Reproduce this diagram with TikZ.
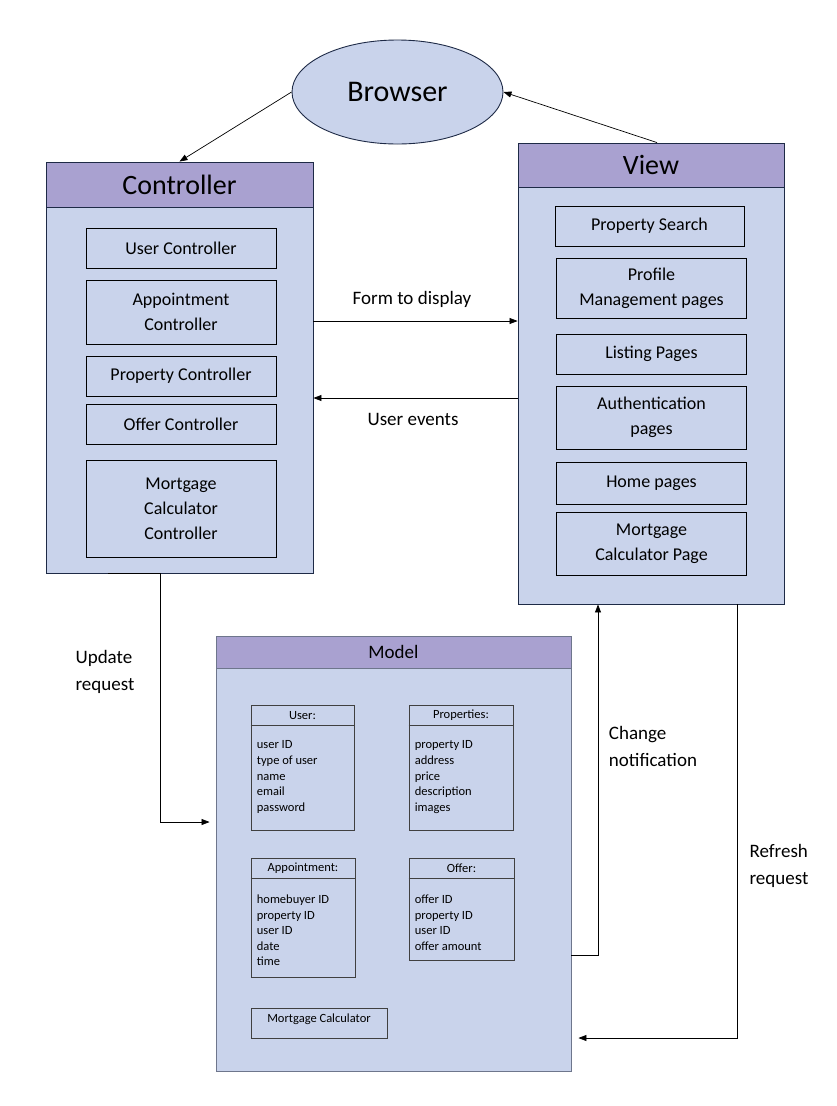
\documentclass[tikz,border=0pt]{standalone}
\usepackage{fontspec}
\setmainfont{Carlito}
\usetikzlibrary{arrows.meta}
\usetikzlibrary{shapes.geometric}
\usetikzlibrary{calc}
\usetikzlibrary{positioning}

\definecolor{panelblue}{RGB}{201,211,235}
\definecolor{headpurple}{RGB}{169,161,208}
\definecolor{edgenavy}{RGB}{30,42,70}
\definecolor{modelgray}{RGB}{110,118,140}

\begin{document}
\begin{tikzpicture}[x=1pt,y=-1pt,
    flow/.style={draw=black, line width=0.7pt, -{Triangle[length=8pt,width=6pt]}},
    lbl/.style={align=left, font=\fontsize{19}{27}\selectfont}]
	\useasboundingbox[fill=white] (0,0) rectangle (836,1106);

	% containers
	\begin{scope}[every node/.style={draw=edgenavy, fill=panelblue, line width=0.9pt, inner sep=0pt}]
		\node[ellipse, minimum width=211pt, minimum height=104pt, font=\fontsize{30}{36}\selectfont] (browser) at (397.5,92) {Browser};
		\node[minimum width=267pt, minimum height=411pt] (ctrl) at (179.5,367.5) {};
		\node[minimum width=266pt, minimum height=461pt] (view) at (651,373.5) {};
		\node[draw=modelgray, minimum width=355pt, minimum height=435pt] (model) at (393.5,853.5) {};
	\end{scope}

	% headers
	\begin{scope}[every node/.style={draw=edgenavy, fill=headpurple, line width=0.9pt, anchor=north, inner sep=0pt}]
		\node[minimum width=267pt, minimum height=45pt, font=\fontsize{28}{34}\selectfont] (ctrlhead) at (ctrl.north) {Controller};
		\node[minimum width=266pt, minimum height=44pt, font=\fontsize{28}{34}\selectfont] (viewhead) at (view.north) {View};
		\node[draw=modelgray, minimum width=355pt, minimum height=32pt, font=\fontsize{19}{23}\selectfont] (modelhead) at (model.north) {Model};
	\end{scope}

	% controller and view parts
	\begin{scope}[every node/.style={draw=black, line width=0.7pt, minimum width=190pt, minimum height=40pt,
	              inner sep=0pt, align=center, font=\fontsize{18}{25}\selectfont}]
		\node (userctrl) at (181,248) {User Controller};
		\node[minimum height=64pt] (apptctrl) at (181,312) {Appointment\\Controller};
		\node (propctrl) at (181,376) {Property Controller};
		\node (offerctrl) at (181,424) {Offer Controller};
		\node[minimum height=97pt] (mortctrl) at (181,508.5) {Mortgage\\Calculator\\Controller};

		\node[minimum width=189pt] (search) at (649.5,226) {Property Search};
		\node[minimum height=60pt] (profile) at (651.5,288) {Profile\\Management pages};
		\node (listing) at (651.5,354) {Listing Pages};
		\node[minimum height=63pt] (auth) at (651.5,417.5) {Authentication\\pages};
		\node[minimum height=42pt] (home) at (651.5,483) {Home pages};
		\node[minimum height=63pt] (mortpage) at (651.5,543.5) {Mortgage\\Calculator Page};
	\end{scope}

	% model entities
	\begin{scope}[every node/.style={draw=black!75, line width=0.7pt, inner sep=0pt}]
		\node[minimum width=103pt, minimum height=125pt] (user) at (302.5,767.5) {};
		\node[minimum width=104pt, minimum height=125pt] (props) at (461,767.5) {};
		\node[minimum width=104pt, minimum height=119pt] (appt) at (303,917.5) {};
		\node[minimum width=105pt, minimum height=102pt] (offer) at (461.5,909) {};
		\node[minimum width=136pt, minimum height=30pt] (mortcalc) at (319,1023) {};
	\end{scope}

	\foreach \ent in {user, props, appt, offer}
		\draw[black!75, line width=0.7pt] ($(\ent.north west)+(0,21)$) -- ($(\ent.north east)+(0,21)$);

	\begin{scope}[every node/.style={inner sep=0pt, font=\fontsize{12.5}{15.6}\selectfont}]
		\node (usertitle) at ($(user.north)+(0,10.5)$) {User:};
		\node (propstitle) at ($(props.north)+(0,10.5)$) {Properties:};
		\node (appttitle) at ($(appt.north)+(0,10.5)$) {Appointment:};
		\node (offertitle) at ($(offer.north)+(0,10.5)$) {Offer:};
		\node (mortcalctitle) at ($(mortcalc.north)+(0,12)$) {Mortgage Calculator};

		\node[anchor=north west, align=left] (userbody) at ($(user.north west)+(6,36)$)
			{user ID\\type of user\\name\\email\\password};
		\node[anchor=north west, align=left] (propsbody) at ($(props.north west)+(6,36)$)
			{property ID\\address\\price\\description\\images};
		\node[anchor=north west, align=left] (apptbody) at ($(appt.north west)+(6,37)$)
			{homebuyer ID\\property ID\\user ID\\date\\time};
		\node[anchor=north west, align=left] (offerbody) at ($(offer.north west)+(6,37)$)
			{offer ID\\property ID\\user ID\\offer amount};
	\end{scope}

	% connectors
	\draw[flow] (browser.west) -- (ctrlhead.north);
	\draw[flow] ($(viewhead.north)+(6,0)$) -- (browser.east);
	\draw[flow] (ctrl.east |- 0,321) -- (view.west |- 0,321);
	\draw[flow] (view.west |- 0,398) -- (ctrl.east |- 0,398);
	\draw[line width=1.3pt] (ctrl.south -| 108,0) -- (ctrl.south -| 160,0);
	\draw[flow, shorten >=6pt] (ctrl.south -| 160,0) |- (model.west |- 0,822);
	\draw[flow] (model.east |- 0,955) -| (view.south -| 598,0);
	\draw[flow, shorten >=7pt] (view.south -| 737,0) |- (model.east |- 0,1038);

	% connector labels
	\node[lbl] (formlbl) at (412,299) {Form to display};
	\node[lbl] (eventslbl) at (413,419) {User events};
	\node[lbl] (updatelbl) at (105,672) {Update\\request};
	\node[lbl] (changelbl) at (653,746) {Change\\notification};
	\node[lbl] (refreshlbl) at (779,866) {Refresh\\request};
\end{tikzpicture}
\end{document}
